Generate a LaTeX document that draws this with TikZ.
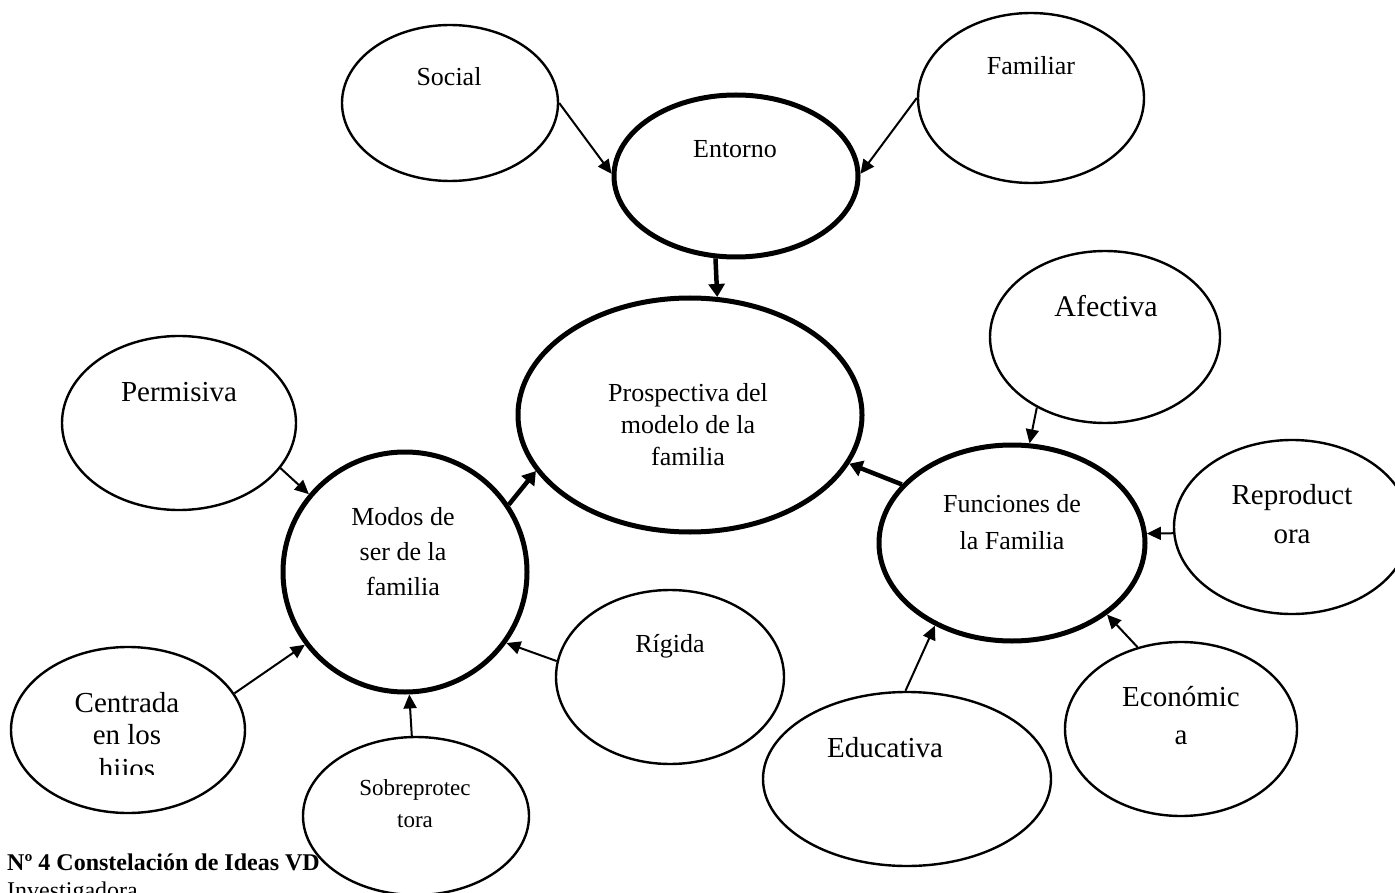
\documentclass[tikz,border=0pt]{standalone}
\usepackage{fontspec}
\setmainfont{Liberation Serif}
\usetikzlibrary{shapes.geometric,arrows.meta}
\begin{document}
\begin{tikzpicture}[x=1pt,y=-1pt,
  ell/.style={draw, ellipse, line width=2.4pt, inner sep=0pt},
  bell/.style={draw, ellipse, line width=5pt, inner sep=0pt},
  conn/.style={line width=2pt, -{Triangle[length=14pt,width=13pt]}},
  bconn/.style={line width=4.5pt, -{Triangle[length=13pt,width=16pt]}},
  st/.style={anchor=base, inner sep=0pt, font=\fontsize{26}{31}\selectfont},
  bt/.style={anchor=base, inner sep=0pt, font=\fontsize{29}{34}\selectfont},
  xt/.style={anchor=base, inner sep=0pt, font=\fontsize{23}{28}\selectfont},
  captxt/.style={anchor=base west, inner sep=0pt, font=\fontsize{24}{28}\selectfont}
]
\useasboundingbox (0,0) rectangle (1395,893);

% ellipses
\node[ell, minimum width=216pt, minimum height=156pt] (soc) at (450,103) {};
\node[ell, minimum width=226pt, minimum height=170pt] (fam) at (1031,98) {};
\node[bell, minimum width=244pt, minimum height=162pt] (ent) at (736,176) {};
\node[bell, minimum width=344pt, minimum height=234pt] (pro) at (690,415) {};
\node[ell, minimum width=230pt, minimum height=172pt] (afe) at (1105,337) {};
\node[ell, minimum width=234pt, minimum height=174pt] (per) at (179,423) {};
\node[bell, minimum width=244pt, minimum height=240pt] (mod) at (405,572) {};
\node[bell, minimum width=266pt, minimum height=196pt] (fun) at (1012,543) {};
\node[ell, minimum width=236pt, minimum height=174pt] (rep) at (1292,527) {};
\node[ell, minimum width=228pt, minimum height=174pt] (rig) at (670,677) {};
\node[ell, minimum width=234pt, minimum height=166pt] (cen) at (128,730) {};
\node[ell, minimum width=226pt, minimum height=158pt] (sob) at (416,816) {};
\node[ell, minimum width=288pt, minimum height=174pt] (edu) at (907,779) {};
\node[ell, minimum width=232pt, minimum height=174pt] (eco) at (1181,729) {};

% texts
\node[st] (soct) at (449,86) {Social};
\node[st] (famt) at (1031,75) {Familiar};
\node[st] (entt) at (735,158) {Entorno};
\node[st] (prot1) at (688,401) {Prospectiva del};
\node[st] (prot2) at (688,433) {modelo de la};
\node[st] (prot3) at (688,465) {familia};
\node[st] (modt1) at (403,525) {Modos de};
\node[st] (modt2) at (403,560) {ser de la};
\node[st] (modt3) at (403,595) {familia};
\node[st] (funt1) at (1012,512) {Funciones de};
\node[st] (funt2) at (1012,549) {la Familia};
\node[st] (rigt) at (670,652) {Rígida};
\node[xt] (sobt1) at (415,795) {Sobreprotec};
\node[xt] (sobt2) at (415,827) {tora};
\node[bt] (pert) at (179,401) {Permisiva};
\node[bt, font=\fontsize{30}{34}\selectfont] (afet) at (1106,317) {Afectiva};
\node[bt] (rept1) at (1292,504) {Reproduct};
\node[bt] (rept2) at (1292,543) {ora};
\node[bt] (ecot1) at (1181,706) {Económic};
\node[bt] (ecot2) at (1181,744) {a};
\node[bt] (edut) at (885,757) {Educativa};
\node[bt] (cent1) at (127,712) {Centrada};
\node[bt] (cent2) at (127,744) {en los};
\begin{scope}
  \clip (0,0) rectangle (300,774);
  \node[bt] (cent3) at (127,778) {hijos};
\end{scope}

% caption
\node[captxt, font=\bfseries\fontsize{24}{28}\selectfont] (capt1) at (7,870) {Nº 4 Constelación de Ideas VD};
\node[captxt] (capt2) at (7,898) {Investigadora};

% connectors
\draw[conn] (soc.east) -- (ent.179);
\draw[conn] (fam.west) -- (ent.1);
\draw[bconn] (ent.-104) -- (pro.77);
\draw[bconn] (mod.33) -- (pro.-160);
\draw[bconn] (fun.152) -- (pro.-17);
\draw[conn] (afe.-134) -- (fun.80);
\draw[conn] (rep.183) -- (fun.4);
\draw[conn] (eco.118) -- (fun.-37);
\draw[conn] (edu.91) -- (fun.-133);
\draw[conn] (per.-24) -- (mod.141);
\draw[conn] (cen.19) -- (mod.-144);
\draw[conn] (sob.93) -- (mod.-88);
\draw[conn] (rig.172) -- (mod.-35);
\end{tikzpicture}
\end{document}
